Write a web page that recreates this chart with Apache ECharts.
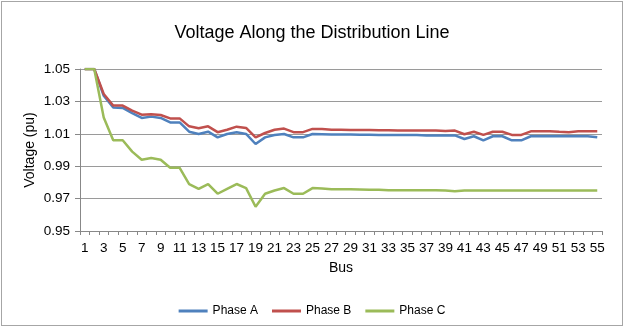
<!DOCTYPE html>
<html>
<head>
<meta charset="utf-8">
<script src="https://cdn.jsdelivr.net/npm/echarts@6/dist/echarts.min.js"></script>
<style>
html, body { margin: 0; padding: 0; background: #fff; }
#chart { position: absolute; left: 1px; top: 1px; width: 620px; height: 323px; border: 1px solid #a6a6a6; }
</style>
</head>
<body>
<div id="chart"></div>
<script>
var buses = [];
for (var b = 1; b <= 55; b++) buses.push(String(b));

var phaseA = [1.05, 1.05, 1.0335, 1.0263, 1.026, 1.0228, 1.0198, 1.0206, 1.0198, 1.017,
  1.017, 1.0113, 1.0099, 1.0113, 1.0078, 1.0099, 1.011, 1.0099, 1.0037, 1.0078,
  1.0093, 1.0099, 1.0078, 1.0078, 1.0099, 1.0097, 1.0095, 1.0095, 1.0095, 1.0094,
  1.0094, 1.0093, 1.0093, 1.0093, 1.0092, 1.0092, 1.009, 1.009, 1.009, 1.009,
  1.0068, 1.0085, 1.006, 1.0085, 1.0085, 1.006, 1.006, 1.0085, 1.0085, 1.0085,
  1.0085, 1.0085, 1.0085, 1.0085, 1.0078];
var phaseB = [1.05, 1.05, 1.0346, 1.0274, 1.0274, 1.0243, 1.0218, 1.022, 1.0216, 1.0195,
  1.0195, 1.0146, 1.0134, 1.0146, 1.011, 1.0125, 1.0144, 1.0136, 1.0078, 1.0105,
  1.0125, 1.0132, 1.011, 1.011, 1.013, 1.013, 1.0125, 1.0125, 1.0124, 1.0123,
  1.0123, 1.0122, 1.0122, 1.0121, 1.0121, 1.012, 1.012, 1.012, 1.0118, 1.012,
  1.0097, 1.0113, 1.0093, 1.0113, 1.0113, 1.0093, 1.0093, 1.0115, 1.0115, 1.0115,
  1.0112, 1.011, 1.0115, 1.0115, 1.0115];
var phaseC = [1.05, 1.05, 1.020, 1.006, 1.006, 0.999, 0.994, 0.995, 0.994, 0.989,
  0.989, 0.979, 0.976, 0.979, 0.973, 0.976, 0.979, 0.9765, 0.965, 0.973,
  0.975, 0.9765, 0.973, 0.973, 0.9765, 0.9762, 0.9757, 0.9757, 0.9757, 0.9756,
  0.9755, 0.9755, 0.9752, 0.9752, 0.9752, 0.9752, 0.9752, 0.9752, 0.975, 0.9745,
  0.975, 0.975, 0.975, 0.975, 0.975, 0.975, 0.975, 0.975, 0.975, 0.975,
  0.975, 0.975, 0.975, 0.975, 0.975];

var myChart = echarts.init(document.getElementById('chart'));
var font = 'Liberation Sans, Arial, sans-serif';
option = {
    animation: false,
    title: {
        text: 'Voltage Along the Distribution Line',
        left: 'center',
        top: 17,
        textStyle: { color: '#000', fontSize: 18, fontWeight: 'normal', fontFamily: font }
    },
    legend: {
        top: 298,
        left: 'center',
        icon: 'rect',
        itemWidth: 29,
        itemHeight: 3,
        itemGap: 14,
        textStyle: { color: '#000', fontSize: 12, fontFamily: font },
        data: ['Phase A', 'Phase B', 'Phase C']
    },
    grid: { left: 78, right: 20, top: 67, bottom: 94 },
    xAxis: {
        type: 'category',
        data: buses,
        boundaryGap: true,
        name: 'Bus',
        nameLocation: 'middle',
        nameGap: 30,
        nameTextStyle: { color: '#000', fontSize: 14, fontFamily: font },
        axisLine: { lineStyle: { color: '#888', width: 1 } },
        axisTick: { show: true, interval: 0, length: 4, lineStyle: { color: '#888' } },
        axisLabel: { interval: 1, color: '#000', fontSize: 13.5, fontFamily: font, margin: 10 },
        splitLine: { show: false }
    },
    yAxis: {
        type: 'value',
        min: 0.95,
        max: 1.05,
        interval: 0.02,
        name: 'Voltage (pu)',
        nameLocation: 'middle',
        nameGap: 43,
        nameMoveOverlap: false,
        nameTextStyle: { color: '#000', fontSize: 14, fontFamily: font },
        axisLine: { show: true, lineStyle: { color: '#888', width: 1 } },
        axisTick: { show: true, length: 5, lineStyle: { color: '#888' } },
        axisLabel: {
            color: '#000', fontSize: 13.5, fontFamily: font, margin: 10,
            formatter: function (v) { return v.toFixed(2); }
        },
        splitLine: { lineStyle: { color: '#9a9a9a', width: 1 } }
    },
    series: [
        { name: 'Phase A', type: 'line', data: phaseA, symbol: 'none', color: '#4f81bd', lineStyle: { width: 2.5 } },
        { name: 'Phase B', type: 'line', data: phaseB, symbol: 'none', color: '#c0504d', lineStyle: { width: 2.5 } },
        { name: 'Phase C', type: 'line', data: phaseC, symbol: 'none', color: '#9bbb59', lineStyle: { width: 2.5 } }
    ]
};
myChart.setOption(option);
</script>
</body>
</html>
